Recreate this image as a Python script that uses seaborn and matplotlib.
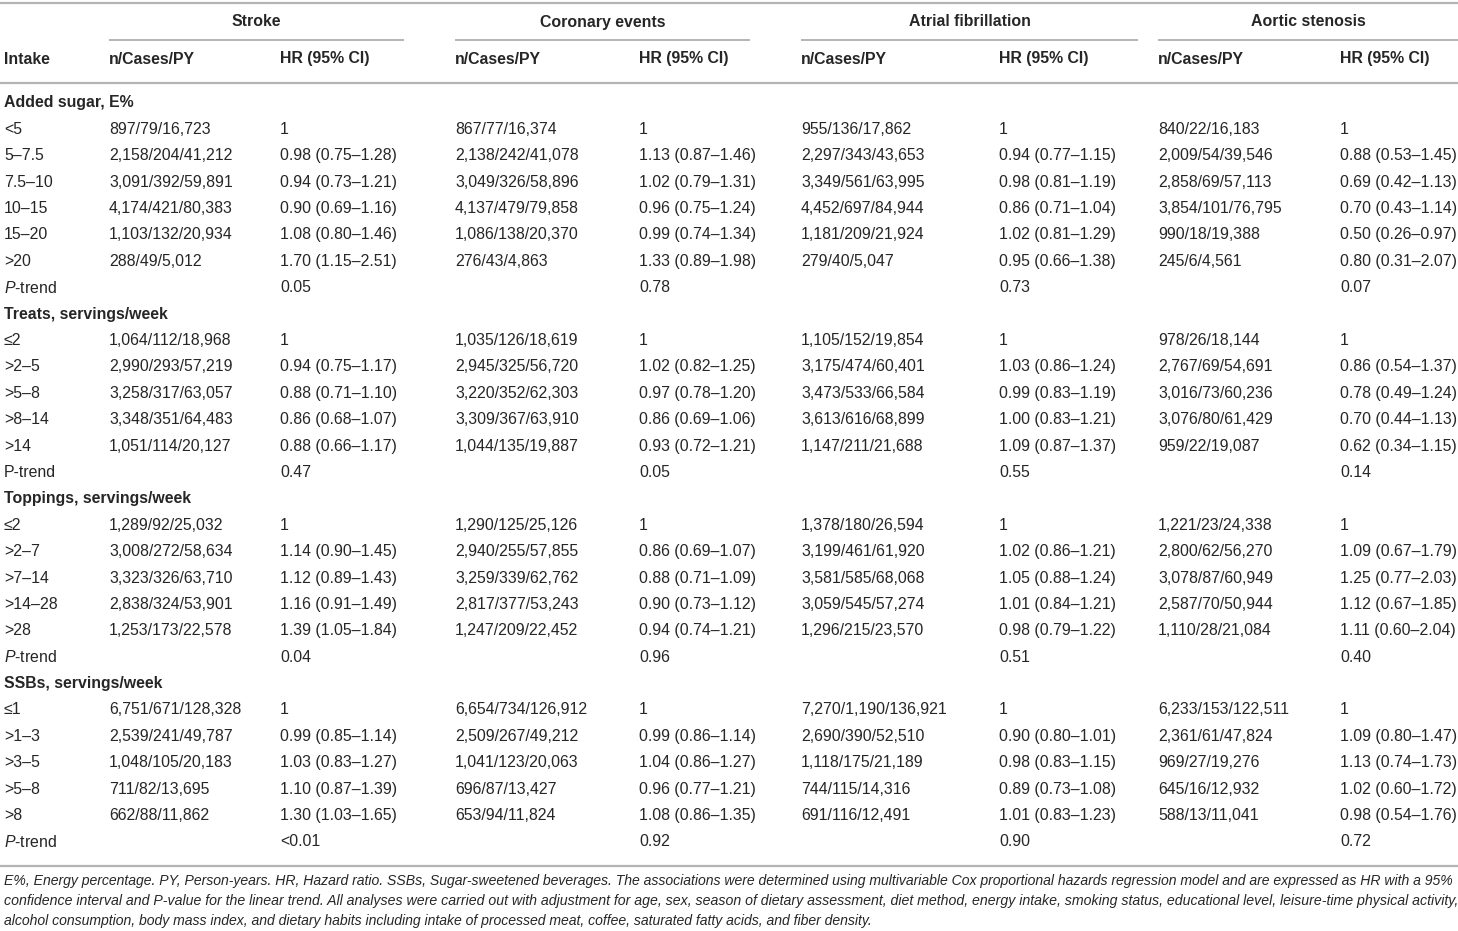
import matplotlib
matplotlib.use("Agg")
import matplotlib.pyplot as plt
from matplotlib import font_manager
import seaborn as sns

sns.set_theme(style="white")
avail = {f.name for f in font_manager.fontManager.ttflist}
FONT = "Liberation Sans Narrow" if "Liberation Sans Narrow" in avail else "Liberation Sans"
plt.rcParams["font.family"] = [FONT, "DejaVu Sans"]
plt.rcParams["mathtext.fontset"] = "custom"
plt.rcParams["mathtext.it"] = FONT + ":italic"
plt.rcParams["mathtext.rm"] = FONT

# ---------------- data ----------------
outcomes = ["Stroke", "Coronary events", "Atrial fibrillation", "Aortic stenosis"]
col_heads = ["n/Cases/PY", "HR (95% CI)"]

groups = ["Added sugar, E%", "Treats, servings/week", "Toppings, servings/week", "SSBs, servings/week"]
levels = [
    ["<5", "5–7.5", "7.5–10", "10–15", "15–20", ">20"],
    ["≤2", ">2–5", ">5–8", ">8–14", ">14"],
    ["≤2", ">2–7", ">7–14", ">14–28", ">28"],
    ["≤1", ">1–3", ">3–5", ">5–8", ">8"],
]
ptrend_italic = [True, False, True, True]

stroke_n = [
    ["897/79/16,723", "2,158/204/41,212", "3,091/392/59,891", "4,174/421/80,383", "1,103/132/20,934", "288/49/5,012"],
    ["1,064/112/18,968", "2,990/293/57,219", "3,258/317/63,057", "3,348/351/64,483", "1,051/114/20,127"],
    ["1,289/92/25,032", "3,008/272/58,634", "3,323/326/63,710", "2,838/324/53,901", "1,253/173/22,578"],
    ["6,751/671/128,328", "2,539/241/49,787", "1,048/105/20,183", "711/82/13,695", "662/88/11,862"],
]
stroke_hr = [
    ["1", "0.98 (0.75–1.28)", "0.94 (0.73–1.21)", "0.90 (0.69–1.16)", "1.08 (0.80–1.46)", "1.70 (1.15–2.51)"],
    ["1", "0.94 (0.75–1.17)", "0.88 (0.71–1.10)", "0.86 (0.68–1.07)", "0.88 (0.66–1.17)"],
    ["1", "1.14 (0.90–1.45)", "1.12 (0.89–1.43)", "1.16 (0.91–1.49)", "1.39 (1.05–1.84)"],
    ["1", "0.99 (0.85–1.14)", "1.03 (0.83–1.27)", "1.10 (0.87–1.39)", "1.30 (1.03–1.65)"],
]
stroke_p = ["0.05", "0.47", "0.04", "<0.01"]

coronary_n = [
    ["867/77/16,374", "2,138/242/41,078", "3,049/326/58,896", "4,137/479/79,858", "1,086/138/20,370", "276/43/4,863"],
    ["1,035/126/18,619", "2,945/325/56,720", "3,220/352/62,303", "3,309/367/63,910", "1,044/135/19,887"],
    ["1,290/125/25,126", "2,940/255/57,855", "3,259/339/62,762", "2,817/377/53,243", "1,247/209/22,452"],
    ["6,654/734/126,912", "2,509/267/49,212", "1,041/123/20,063", "696/87/13,427", "653/94/11,824"],
]
coronary_hr = [
    ["1", "1.13 (0.87–1.46)", "1.02 (0.79–1.31)", "0.96 (0.75–1.24)", "0.99 (0.74–1.34)", "1.33 (0.89–1.98)"],
    ["1", "1.02 (0.82–1.25)", "0.97 (0.78–1.20)", "0.86 (0.69–1.06)", "0.93 (0.72–1.21)"],
    ["1", "0.86 (0.69–1.07)", "0.88 (0.71–1.09)", "0.90 (0.73–1.12)", "0.94 (0.74–1.21)"],
    ["1", "0.99 (0.86–1.14)", "1.04 (0.86–1.27)", "0.96 (0.77–1.21)", "1.08 (0.86–1.35)"],
]
coronary_p = ["0.78", "0.05", "0.96", "0.92"]

af_n = [
    ["955/136/17,862", "2,297/343/43,653", "3,349/561/63,995", "4,452/697/84,944", "1,181/209/21,924", "279/40/5,047"],
    ["1,105/152/19,854", "3,175/474/60,401", "3,473/533/66,584", "3,613/616/68,899", "1,147/211/21,688"],
    ["1,378/180/26,594", "3,199/461/61,920", "3,581/585/68,068", "3,059/545/57,274", "1,296/215/23,570"],
    ["7,270/1,190/136,921", "2,690/390/52,510", "1,118/175/21,189", "744/115/14,316", "691/116/12,491"],
]
af_hr = [
    ["1", "0.94 (0.77–1.15)", "0.98 (0.81–1.19)", "0.86 (0.71–1.04)", "1.02 (0.81–1.29)", "0.95 (0.66–1.38)"],
    ["1", "1.03 (0.86–1.24)", "0.99 (0.83–1.19)", "1.00 (0.83–1.21)", "1.09 (0.87–1.37)"],
    ["1", "1.02 (0.86–1.21)", "1.05 (0.88–1.24)", "1.01 (0.84–1.21)", "0.98 (0.79–1.22)"],
    ["1", "0.90 (0.80–1.01)", "0.98 (0.83–1.15)", "0.89 (0.73–1.08)", "1.01 (0.83–1.23)"],
]
af_p = ["0.73", "0.55", "0.51", "0.90"]

as_n = [
    ["840/22/16,183", "2,009/54/39,546", "2,858/69/57,113", "3,854/101/76,795", "990/18/19,388", "245/6/4,561"],
    ["978/26/18,144", "2,767/69/54,691", "3,016/73/60,236", "3,076/80/61,429", "959/22/19,087"],
    ["1,221/23/24,338", "2,800/62/56,270", "3,078/87/60,949", "2,587/70/50,944", "1,110/28/21,084"],
    ["6,233/153/122,511", "2,361/61/47,824", "969/27/19,276", "645/16/12,932", "588/13/11,041"],
]
as_hr = [
    ["1", "0.88 (0.53–1.45)", "0.69 (0.42–1.13)", "0.70 (0.43–1.14)", "0.50 (0.26–0.97)", "0.80 (0.31–2.07)"],
    ["1", "0.86 (0.54–1.37)", "0.78 (0.49–1.24)", "0.70 (0.44–1.13)", "0.62 (0.34–1.15)"],
    ["1", "1.09 (0.67–1.79)", "1.25 (0.77–2.03)", "1.12 (0.67–1.85)", "1.11 (0.60–2.04)"],
    ["1", "1.09 (0.80–1.47)", "1.13 (0.74–1.73)", "1.02 (0.60–1.72)", "0.98 (0.54–1.76)"],
]
as_p = ["0.07", "0.14", "0.40", "0.72"]

footnote = [
    "E%, Energy percentage. PY, Person-years. HR, Hazard ratio. SSBs, Sugar-sweetened beverages. The associations were determined using multivariable Cox proportional hazards regression model and are expressed as HR with a 95%",
    "confidence interval and P-value for the linear trend. All analyses were carried out with adjustment for age, sex, season of dietary assessment, diet method, energy intake, smoking status, educational level, leisure-time physical activity,",
    "alcohol consumption, body mass index, and dietary habits including intake of processed meat, coffee, saturated fatty acids, and fiber density.",
]

ns = [stroke_n, coronary_n, af_n, as_n]
hrs = [stroke_hr, coronary_hr, af_hr, as_hr]
ps = [stroke_p, coronary_p, af_p, as_p]

# ---------------- layout ----------------
W, H = 1458, 931
fig = plt.figure(figsize=(W / 100, H / 100), dpi=100)
ax = fig.add_axes([0, 0, 1, 1])
ax.set_xlim(0, W)
ax.set_ylim(H, 0)
ax.axis("off")

TXT = "#262626"
RULE = "#b4b4b4"
FS = 11.4
n_x = [109, 455, 801, 1158]
hr_x = [280, 639, 999, 1340]
grp_span = [(109, 404), (455, 750), (801, 1138), (1158, 1458)]

# rules
ax.plot([0, W], [3, 3], color=RULE, lw=1.6, solid_capstyle="butt")
ax.plot([0, W], [83, 83], color=RULE, lw=1.6, solid_capstyle="butt")
for (a, b), name in zip(grp_span, outcomes):
    ax.plot([a, b], [40, 40], color=RULE, lw=1.4, solid_capstyle="butt")
    ax.text((a + b) / 2, 22, name, ha="center", va="center", fontsize=FS, fontweight="bold", color=TXT)

ax.text(4, 59, "Intake", ha="left", va="center", fontsize=FS, fontweight="bold", color=TXT)
for k in range(4):
    ax.text(n_x[k], 59, col_heads[0], ha="left", va="center", fontsize=FS, fontweight="bold", color=TXT)
    ax.text(hr_x[k], 59, col_heads[1], ha="left", va="center", fontsize=FS, fontweight="bold", color=TXT)

y0, dy = 103, 26.39
row = 0
for g, gname in enumerate(groups):
    y = y0 + row * dy
    ax.text(4, y, gname, ha="left", va="center", fontsize=FS, fontweight="bold", color=TXT)
    row += 1
    for i, lev in enumerate(levels[g]):
        y = y0 + row * dy
        ax.text(4, y, lev, ha="left", va="center", fontsize=FS, color=TXT)
        for k in range(4):
            ax.text(n_x[k], y, ns[k][g][i], ha="left", va="center", fontsize=FS, color=TXT)
            ax.text(hr_x[k], y, hrs[k][g][i], ha="left", va="center", fontsize=FS, color=TXT)
        row += 1
    y = y0 + row * dy
    lab = r"$\it{P}$-trend" if ptrend_italic[g] else "P-trend"
    ax.text(4, y, lab, ha="left", va="center", fontsize=FS, color=TXT)
    for k in range(4):
        ax.text(hr_x[k], y, ps[k][g], ha="left", va="center", fontsize=FS, color=TXT)
    row += 1

ax.plot([0, W], [866, 866], color=RULE, lw=1.6, solid_capstyle="butt")

# footnote: fit the first two (full) lines to the table width
fig.canvas.draw()
renderer = fig.canvas.get_renderer()
fn_fs = 10.4
probe = ax.text(4, 881, footnote[0], ha="left", va="center", fontsize=fn_fs, style="italic")
w0 = probe.get_window_extent(renderer).width
probe.set_text(footnote[1])
w1 = probe.get_window_extent(renderer).width
probe.remove()
target = 1450
fs_lines = [fn_fs * target / w0, fn_fs * target / w1]
fs_lines.append(min(fs_lines))
for j, line in enumerate(footnote):
    ax.text(4, 881 + j * 20, line, ha="left", va="center", fontsize=fs_lines[j], style="italic", color=TXT)

fig.savefig("out.png", dpi=100, facecolor="white")
